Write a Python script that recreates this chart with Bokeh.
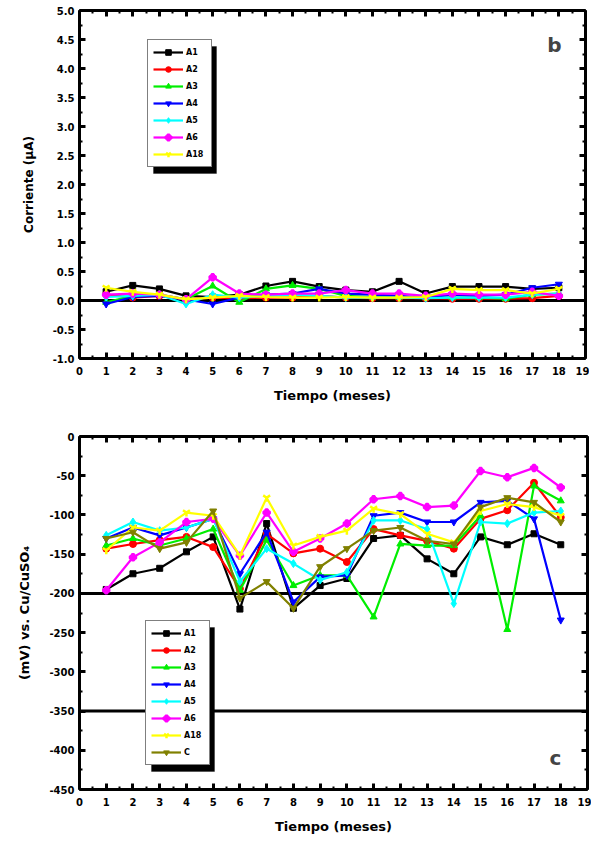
from bokeh.plotting import figure
from bokeh.layouts import column
from bokeh.models import (Legend, LegendItem, Span, Label, LinearAxis, BoxAnnotation,
                          SingleIntervalTicker, PrintfTickFormatter, CustomJSTickFormatter, Range1d)
from bokeh.embed import file_html
from bokeh.resources import INLINE

# ---------------- data ----------------
months = list(range(1, 19))

series_names_b = ["A1", "A2", "A3", "A4", "A5", "A6", "A18"]
b_A1 = [0.15, 0.26, 0.20, 0.08, 0.06, 0.10, 0.25, 0.33, 0.24, 0.18, 0.15, 0.33, 0.12, 0.24, 0.24, 0.24, 0.20, 0.22]
b_A2 = [0.10, 0.05, 0.08, 0.02, 0.05, 0.04, 0.05, 0.05, 0.08, 0.05, 0.04, 0.04, 0.04, 0.03, 0.03, 0.03, 0.04, 0.08]
b_A3 = [-0.03, 0.08, 0.10, 0.02, 0.25, -0.03, 0.20, 0.26, 0.20, 0.08, 0.06, 0.06, 0.05, 0.05, 0.05, 0.03, 0.10, 0.12]
b_A4 = [-0.06, 0.06, 0.08, 0.02, -0.06, 0.05, 0.10, 0.12, 0.20, 0.12, 0.10, 0.08, 0.05, 0.10, 0.08, 0.10, 0.22, 0.28]
b_A5 = [0.06, 0.08, 0.10, -0.06, 0.10, 0.05, 0.08, 0.10, 0.08, 0.05, 0.05, 0.05, 0.04, 0.05, 0.05, 0.05, 0.10, 0.12]
b_A6 = [0.10, 0.12, 0.10, 0.02, 0.40, 0.12, 0.10, 0.12, 0.12, 0.18, 0.12, 0.12, 0.08, 0.12, 0.10, 0.10, 0.15, 0.08]
b_A18 = [0.22, 0.15, 0.10, 0.02, 0.05, 0.08, 0.06, 0.05, 0.05, 0.06, 0.05, 0.05, 0.06, 0.20, 0.18, 0.18, 0.12, 0.20]
b_series = [b_A1, b_A2, b_A3, b_A4, b_A5, b_A6, b_A18]
b_zero_line = [0.0]

series_names_c = ["A1", "A2", "A3", "A4", "A5", "A6", "A18", "C"]
c_A1 = [-195, -175, -168, -147, -128, -220, -111, -219, -190, -181, -130, -126, -156, -175, -128, -138, -124, -138]
c_A2 = [-143, -137, -132, -128, -141, -194, -124, -149, -143, -160, -118, -126, -133, -143, -105, -94, -59, -103]
c_A3 = [-139, -130, -139, -130, -118, -196, -132, -190, -177, -177, -230, -137, -139, -139, -101, -246, -63, -82]
c_A4 = [-130, -116, -126, -116, -105, -175, -122, -211, -179, -177, -101, -97, -109, -109, -84, -82, -105, -234]
c_A5 = [-126, -109, -120, -116, -105, -185, -143, -162, -183, -173, -107, -107, -118, -213, -109, -111, -97, -95]
c_A6 = [-196, -154, -135, -109, -105, -152, -97, -147, -130, -111, -80, -76, -90, -88, -44, -52, -40, -65]
c_A18 = [-145, -116, -120, -97, -101, -152, -78, -139, -128, -120, -92, -99, -124, -135, -95, -86, -90, -101]
c_C = [-130, -122, -143, -135, -95, -206, -185, -219, -166, -143, -120, -116, -133, -137, -90, -78, -84, -109]
c_series = [c_A1, c_A2, c_A3, c_A4, c_A5, c_A6, c_A18, c_C]
c_ref_lines = [-200, -350]

colors = ["#000000", "#ff0000", "#00ee00", "#0000ff", "#00ffff", "#ff00ff", "#ffff00", "#808000"]
markers = ["square", "circle", "triangle", "inverted_triangle", "diamond", "plus", "y", "inverted_triangle"]
msizes = [6, 7, 7, 7, 8, 6, 8, 7]

FONT = "DejaVu Sans"


def style_axis(ax, show_labels=True):
    ax.axis_line_width = 3
    ax.axis_line_color = "black"
    ax.major_tick_in = 6
    ax.major_tick_out = 0
    ax.minor_tick_in = 3
    ax.minor_tick_out = 0
    ax.major_tick_line_width = 3
    ax.minor_tick_line_width = 2
    ax.major_label_text_font = FONT
    ax.major_label_text_font_style = "bold"
    ax.major_label_text_font_size = "10px"
    ax.major_label_text_color = "black"
    ax.axis_label_text_font = FONT
    ax.axis_label_text_font_style = "bold"
    ax.axis_label_text_font_size = "13px"
    ax.axis_label_text_color = "black"
    if not show_labels:
        ax.formatter = CustomJSTickFormatter(code="return ''")
        ax.major_label_standoff = 0


def make_panel(width, height, yr, ystep, ynum_minor, yfmt, ylabel, borders, ylab_size):
    p = figure(width=width, height=height, output_backend="svg", toolbar_location=None,
               x_range=Range1d(0, 19), y_range=Range1d(*yr),
               min_border_left=borders[0], min_border_right=borders[1],
               min_border_top=borders[2], min_border_bottom=borders[3])
    p.grid.visible = False
    p.outline_line_color = None
    p.background_fill_color = "white"
    p.border_fill_color = "white"
    p.xaxis.ticker = SingleIntervalTicker(interval=1, num_minor_ticks=2)
    p.yaxis.ticker = SingleIntervalTicker(interval=ystep, num_minor_ticks=ynum_minor)
    p.yaxis.formatter = PrintfTickFormatter(format=yfmt)
    p.xaxis.axis_label = "Tiempo (meses)"
    p.yaxis.axis_label = ylabel
    for ax in p.xaxis + p.yaxis:
        style_axis(ax)
    p.yaxis.axis_label_text_font_size = ylab_size
    p.xaxis.major_label_standoff = 8
    p.xaxis.axis_label_standoff = 10
    p.yaxis.major_label_standoff = 5
    p.yaxis.axis_label_standoff = 14
    top = LinearAxis(ticker=SingleIntervalTicker(interval=1, num_minor_ticks=2))
    right = LinearAxis(ticker=SingleIntervalTicker(interval=ystep, num_minor_ticks=ynum_minor))
    style_axis(top, show_labels=False)
    style_axis(right, show_labels=False)
    p.add_layout(top, "above")
    p.add_layout(right, "right")
    return p


def add_series(p, names, series, legend_loc, legend_size, shadow=6):
    items = []
    for i, (nm, ys) in enumerate(zip(names, series)):
        col = colors[i]
        lr = p.line(months, ys, line_color=col, line_width=2.2)
        if markers[i] in ("plus", "y"):
            sr = p.scatter(months, ys, marker=markers[i], size=msizes[i], line_color=col,
                           fill_color=col, line_width=2.5)
        else:
            sr = p.scatter(months, ys, marker=markers[i], size=msizes[i], line_color=col,
                           fill_color=col, line_width=1)
        items.append(LegendItem(label=nm, renderers=[lr, sr]))

    w, h = legend_size
    x0, y0 = legend_loc
    p.add_layout(BoxAnnotation(left=x0 + shadow, right=x0 + w + shadow,
                               bottom=y0 - shadow, top=y0 + h - shadow,
                               left_units="screen", right_units="screen",
                               top_units="screen", bottom_units="screen",
                               fill_color="black", fill_alpha=1.0, line_color="black"))
    lg = Legend(items=items, location=legend_loc, orientation="vertical",
                label_text_font=FONT, label_text_font_style="bold",
                label_text_font_size="8px",
                label_height=14, glyph_height=14, glyph_width=30,
                label_standoff=3, spacing=3, padding=5, margin=0,
                border_line_color="black", border_line_width=1.5,
                background_fill_color="white", background_fill_alpha=1.0,
                label_text_color="black")
    p.add_layout(lg, "center")


# ---------------- panel b ----------------
p1 = make_panel(589, 424, (-1.0, 5.0), 0.5, 2, "%.1f", "Corriente (\u00b5A)", (77, 4, 10, 66), "12px")
for v in b_zero_line:
    p1.add_layout(Span(location=v, dimension="width", line_color="black", line_width=3, level="underlay"))
add_series(p1, series_names_b, b_series, (68, 191), (63, 127))
p1.add_layout(Label(x=475, y=314, x_units="screen", y_units="screen", text="b",
                    text_font=FONT, text_font_style="bold", text_font_size="20px",
                    text_align="center", text_baseline="middle"))

# ---------------- panel c ----------------
p2 = make_panel(591, 412, (-450, 0), 50, 2, "%d", "(mV) vs. Cu/CuSO\u2084", (79, 2, 12, 44), "13px")
for v in c_ref_lines:
    p2.add_layout(Span(location=v, dimension="width", line_color="black", line_width=3, level="underlay"))
add_series(p2, series_names_c, c_series, (66, 24), (63, 144))
p2.add_layout(Label(x=476, y=32, x_units="screen", y_units="screen", text="c",
                    text_font=FONT, text_font_style="bold", text_font_size="20px",
                    text_align="center", text_baseline="middle"))

layout = column(p1, p2, spacing=0)
open("out.html", "w").write(file_html(layout, INLINE))
